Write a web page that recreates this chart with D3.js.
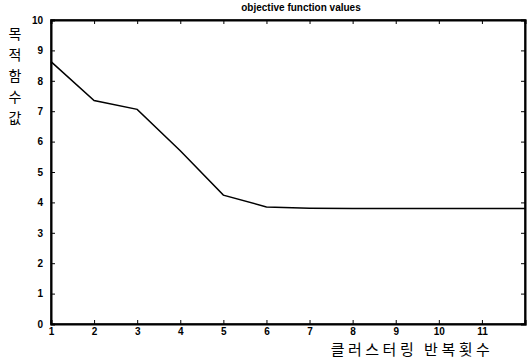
<!DOCTYPE html>
<html>
<head>
<meta charset="utf-8">
<script src="https://cdn.jsdelivr.net/npm/d3@7"></script>
<style>
  body { margin: 0; background: #fff; }
  .tick text { font-family: Arial, "Liberation Sans", sans-serif; font-weight: bold; font-size: 10px; fill: #000; }
</style>
</head>
<body>
<div id="chart"></div>
<script>
const iterations = [1, 2, 3, 4, 5, 6, 7, 8, 9, 10, 11, 12];
const objValues = [8.63, 7.35, 7.06, 5.70, 4.24, 3.85, 3.81, 3.80, 3.80, 3.80, 3.80, 3.80];
const xTicks = [1, 2, 3, 4, 5, 6, 7, 8, 9, 10, 11];
const yTicks = [0, 1, 2, 3, 4, 5, 6, 7, 8, 9, 10];
const titleText = 'objective function values';
const xLabel = '클러스터링 반복횟수';
const yLabelChars = ['목', '적', '함', '수', '값'];

const width = 528, height = 360;
const margin = { top: 20, right: 3, bottom: 36, left: 51 };
const innerW = width - margin.left - margin.right;
const innerH = height - margin.top - margin.bottom;

const svg = d3.select('#chart').append('svg')
  .attr('width', width)
  .attr('height', height);

const x = d3.scaleLinear().domain([1, 12]).range([0, innerW]);
const y = d3.scaleLinear().domain([0, 10]).range([innerH, 0]);

const g = svg.append('g').attr('transform', `translate(${margin.left},${margin.top})`);

// frame
g.append('rect')
  .attr('width', innerW).attr('height', innerH)
  .attr('fill', 'none').attr('stroke', '#000').attr('stroke-width', 1.5);

// inner ticks on all four sides (matlab style)
g.append('g').attr('transform', `translate(0,${innerH})`)
  .call(d3.axisBottom(x).tickValues(xTicks).tickSize(-4).tickPadding(4).tickFormat(d3.format('d')));
g.append('g').call(d3.axisTop(x).tickValues(xTicks).tickSize(-4).tickFormat(''));
g.append('g')
  .call(d3.axisLeft(y).tickValues(yTicks).tickSize(-4).tickPadding(8).tickFormat(d3.format('d')));
g.append('g').attr('transform', `translate(${innerW},0)`)
  .call(d3.axisRight(y).tickValues(yTicks).tickSize(-4).tickFormat(''));
g.selectAll('.domain').attr('stroke', '#000').attr('stroke-width', 2);
g.selectAll('.tick line').attr('stroke', '#000');

// data line
const line = d3.line().x((d, i) => x(iterations[i])).y(d => y(d));
g.append('path')
  .datum(objValues)
  .attr('d', line)
  .attr('fill', 'none')
  .attr('stroke', '#000')
  .attr('stroke-width', 1.5);

// title
svg.append('text')
  .attr('x', 301).attr('y', 11)
  .attr('text-anchor', 'middle')
  .attr('font-family', 'Arial, "Liberation Sans", sans-serif')
  .attr('font-weight', 'bold')
  .attr('font-size', 10)
  .text(titleText);

// x label
svg.append('text')
  .attr('x', 412).attr('y', 355)
  .attr('text-anchor', 'middle')
  .attr('font-family', '"Noto Sans CJK KR", sans-serif')
  .attr('font-size', 15)
  .attr('letter-spacing', 3.5)
  .text(xLabel);

// y label, stacked characters
svg.append('g').selectAll('text')
  .data(yLabelChars)
  .join('text')
  .attr('x', 15)
  .attr('y', (d, i) => 39 + i * 21)
  .attr('text-anchor', 'middle')
  .attr('font-family', '"Noto Sans CJK KR", sans-serif')
  .attr('font-size', 14)
  .text(d => d);
</script>
</body>
</html>
